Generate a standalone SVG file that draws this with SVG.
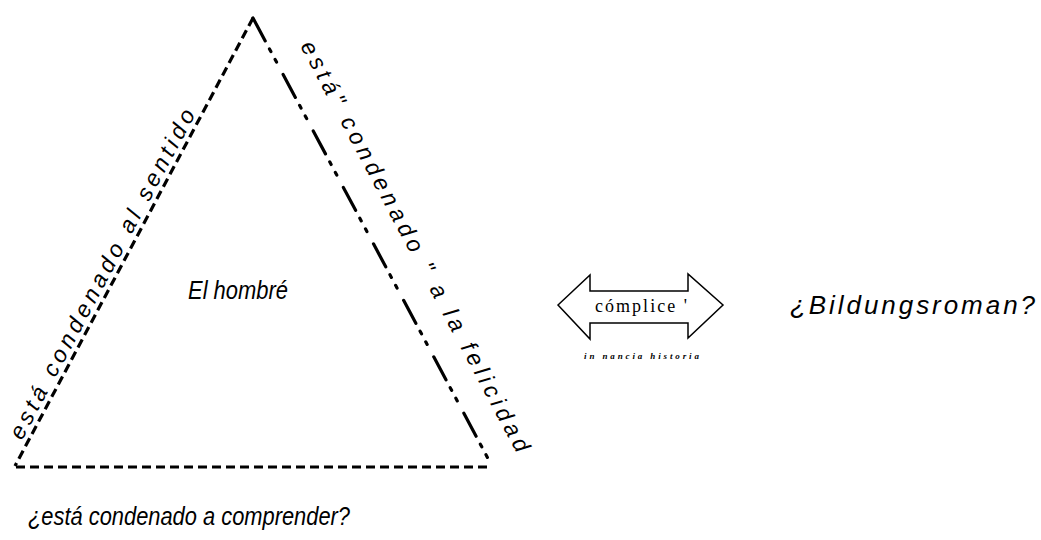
<svg xmlns="http://www.w3.org/2000/svg" width="1041" height="540" viewBox="0 0 1041 540">
  <style>
    .hand { font-family: "Liberation Sans", "DejaVu Sans", sans-serif; font-style: italic; fill: #000; }
    .edge { fill: none; stroke: #000; stroke-width: 3.2; stroke-linecap: butt; }
    .dashed { stroke-dasharray: 9 5; }
    .dashdot { stroke-dasharray: 26 9 3 9 3 14; stroke-linecap: round; }
  </style>
  <rect width="1041" height="540" fill="#fff"/>

  <!-- triangle sides -->
  <g id="connectors">
    <line class="edge dashed" x1="253" y1="18" x2="15" y2="466"/>
    <line class="edge dashed" x1="16" y1="467" x2="492" y2="467"/>
    <line class="edge dashdot" x1="253" y1="18" x2="492" y2="466"/>
  </g>

  <!-- side labels -->
  <g id="label-left">
    <text class="hand" font-size="23" textLength="370" lengthAdjust="spacing" transform="translate(22,441) rotate(-62)">está condenado al sentido</text>
  </g>
  <g id="label-right">
    <text class="hand" font-size="23" textLength="462" lengthAdjust="spacing" transform="translate(300,46) rotate(62)">está" condenado " a la felicidad</text>
  </g>
  <g id="label-bottom">
    <text class="hand" font-size="25" x="28" y="525" textLength="322" lengthAdjust="spacingAndGlyphs">¿está condenado a comprender?</text>
  </g>

  <g id="center">
    <text class="hand" font-size="26" x="188" y="299" textLength="100" lengthAdjust="spacingAndGlyphs">El hombré</text>
  </g>

  <!-- double arrow -->
  <g id="complice">
    <path d="M558,305 L590,275 L590,291 L688,291 L688,274 L723,305 L688,338 L688,323 L590,323 L590,339 Z" fill="#fff" stroke="#000" stroke-width="1.5" stroke-linejoin="miter"/>
    <text x="595" y="312" font-family="Liberation Serif, serif" font-size="18" textLength="92" lengthAdjust="spacing">cómplice '</text>
    <text x="584" y="359" font-family="Liberation Serif, serif" font-size="9" font-style="italic" font-weight="bold" textLength="115" lengthAdjust="spacing">in nancia  historia</text>
  </g>

  <g id="bildungsroman">
    <text class="hand" font-size="26" x="790" y="314" textLength="245" lengthAdjust="spacing">¿Bildungsroman?</text>
  </g>
</svg>
